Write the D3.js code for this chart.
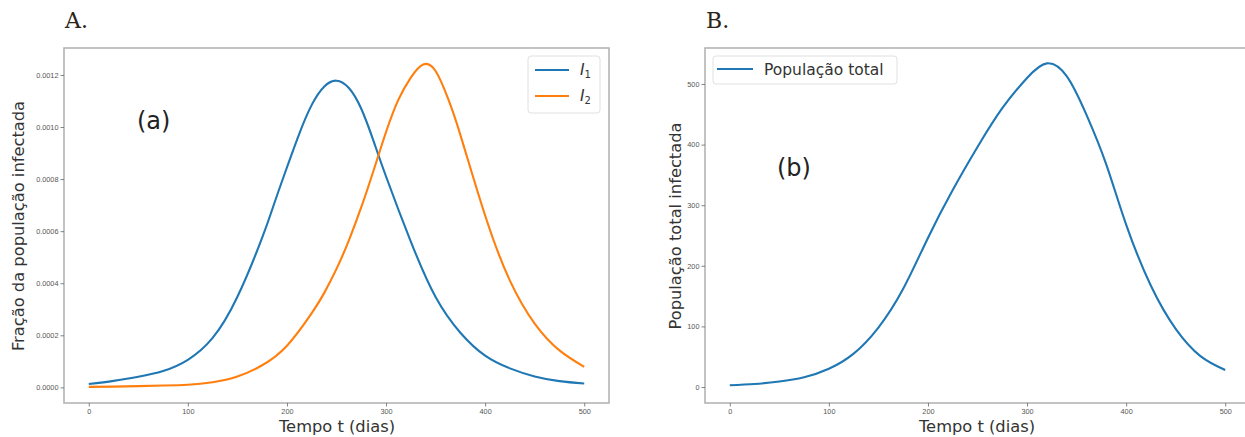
<!DOCTYPE html>
<html>
<head>
<meta charset="utf-8">
<script src="https://cdn.jsdelivr.net/npm/d3@7"></script>
<style>
  html, body { margin: 0; padding: 0; background: #fff; }
  svg { display: block; font-family: "DejaVu Sans", sans-serif; }
  .spine { fill: none; stroke: #b4b4b4; stroke-width: 1.6; }
  .tick-lbl { font-size: 7.3px; fill: #555; }
  .ax-lbl { font-size: 16.3px; fill: #333; }
  .panel-tag { font-family: "DejaVu Serif", "Liberation Serif", serif; font-size: 22px; fill: #2b2418; }
  .note { font-size: 24px; fill: #222; }
  .leg-txt { font-size: 15.5px; fill: #333; }
</style>
</head>
<body>
<div id="chart"></div>
<script>
// Dados
const i1Days     = [0, 25, 50, 75, 100, 125, 150, 175, 187.5, 200, 212.5, 225, 237.5, 250, 262.5, 275, 287.5, 300, 325, 350, 375, 400, 425, 450, 475, 500];
const i1Values   = [0.000013, 0.000025, 0.000041, 0.000063, 0.000106, 0.000190, 0.000348, 0.000575, 0.000710, 0.000845, 0.000975, 0.001085, 0.001155, 0.001178, 0.001150, 0.001070, 0.000945, 0.000810, 0.000560, 0.000347, 0.000210, 0.000122, 0.000073, 0.000042, 0.000024, 0.000015];
const i2Days     = [0, 25, 50, 75, 100, 125, 150, 175, 200, 225, 237.5, 250, 262.5, 275, 287.5, 300, 312.5, 325, 337.5, 350, 362.5, 375, 400, 425, 450, 475, 500];
const i2Values   = [0.000002, 0.000003, 0.000005, 0.000007, 0.000010, 0.000020, 0.000042, 0.000085, 0.000160, 0.000285, 0.000362, 0.000455, 0.000565, 0.000692, 0.000834, 0.000981, 0.001105, 0.001190, 0.001240, 0.001215, 0.001110, 0.000970, 0.000660, 0.000410, 0.000245, 0.000142, 0.000079];
const totalDays  = [0, 25, 50, 75, 100, 125, 150, 175, 200, 225, 250, 275, 300, 320, 340, 360, 380, 400, 425, 450, 475, 500];
const totalVals  = [3, 5, 9, 16, 30, 55, 98, 162, 246, 325, 396, 460, 510, 534, 513, 449, 367, 268, 167, 96, 51, 28];
const xTicks     = [0, 100, 200, 300, 400, 500];
const yTicksA    = [0, 0.0002, 0.0004, 0.0006, 0.0008, 0.0010, 0.0012];
const yTicksB    = [0, 100, 200, 300, 400, 500];

const W = 1245, H = 437;
const BLUE = '#1f77b4', ORANGE = '#ff7f0e';

const svg = d3.select('#chart').append('svg')
  .attr('width', W).attr('height', H);

/**
 * Desenha um painel tipo matplotlib: eixos, ticks, linhas.
 */
function drawPanel(p) {
  const x = d3.scaleLinear().domain([-25, 525]).range([p.left, p.right]);
  const y = d3.scaleLinear().domain(p.yDomain).range([p.bottom, p.top]);
  const g = svg.append('g');

  // moldura
  g.append('rect').attr('class', 'spine')
    .attr('x', p.left).attr('y', p.top)
    .attr('width', p.right - p.left).attr('height', p.bottom - p.top);

  // eixo x
  const xAxis = d3.axisBottom(x).tickValues(xTicks).tickSize(3.5).tickPadding(2).tickFormat(d3.format('d'));
  const gx = g.append('g').attr('transform', `translate(0,${p.bottom})`).call(xAxis);
  // eixo y
  const yAxis = d3.axisLeft(y).tickValues(p.yTicks).tickSize(3.5).tickPadding(2).tickFormat(p.yFmt);
  const gy = g.append('g').attr('transform', `translate(${p.left},0)`).call(yAxis);

  [gx, gy].forEach(a => {
    a.select('.domain').remove();
    a.selectAll('line').attr('stroke', '#666').attr('stroke-width', 0.8);
    a.selectAll('text').attr('class', 'tick-lbl').attr('font-family', null).attr('font-size', null).attr('fill', null);
  });

  // linhas
  const clip = 'clip-' + p.id;
  svg.append('clipPath').attr('id', clip).append('rect')
    .attr('x', p.left).attr('y', p.top).attr('width', p.right - p.left).attr('height', p.bottom - p.top);

  p.series.forEach(s => {
    const pts = s.t.map((t, i) => [t, s.v[i]]);
    g.append('path')
      .attr('clip-path', `url(#${clip})`)
      .attr('d', d3.line().x(d => x(d[0])).y(d => y(d[1])).curve(d3.curveNatural)(pts))
      .attr('fill', 'none').attr('stroke', s.color).attr('stroke-width', 2.1);
  });

  // rótulos dos eixos
  g.append('text').attr('class', 'ax-lbl')
    .attr('x', p.xLblX).attr('y', 432)
    .attr('text-anchor', 'middle').text('Tempo t (dias)');
  g.append('text').attr('class', 'ax-lbl')
    .attr('transform', `translate(${p.yLblX},${p.yLblY}) rotate(-90)`)
    .attr('text-anchor', 'middle').text(p.yLabel);

  // letra do painel e anotação
  g.append('text').attr('class', 'panel-tag').attr('x', p.left + 1).attr('y', 28).text(p.tag);
  g.append('text').attr('class', 'note').attr('x', p.noteX).attr('y', p.noteY).text(p.note);

  return { g, x, y };
}

// Painel A
const A = drawPanel({
  id: 'a', left: 64, right: 609, top: 48, bottom: 403,
  yDomain: [-0.00006, 0.0013035], yTicks: yTicksA, yFmt: d3.format('.4f'),
  series: [
    { t: i1Days, v: i1Values, color: BLUE },
    { t: i2Days, v: i2Values, color: ORANGE }
  ],
  yLabel: 'Fração da população infectada', yLblX: 24, yLblY: 226, xLblX: 337,
  tag: 'A.', note: '(a)', noteX: 137, noteY: 129
});

// Legenda A
const legA = A.g.append('g');
legA.append('rect').attr('x', 528).attr('y', 56).attr('width', 72).attr('height', 57)
  .attr('rx', 3).attr('fill', '#fff').attr('stroke', '#e0e0e0').attr('stroke-width', 1);
[['1', BLUE, 70], ['2', ORANGE, 96]].forEach(([sub, c, ly]) => {
  legA.append('line').attr('x1', 535).attr('x2', 569).attr('y1', ly).attr('y2', ly)
    .attr('stroke', c).attr('stroke-width', 2.1);
  const tx = legA.append('text').attr('class', 'leg-txt').attr('x', 580).attr('y', ly + 5);
  tx.append('tspan').attr('font-style', 'italic').text('I');
  tx.append('tspan').attr('font-size', 10).attr('dy', 3).text(sub);
});

// Painel B
const B = drawPanel({
  id: 'b', left: 705, right: 1250, top: 48, bottom: 403,
  yDomain: [-26.4, 559.4], yTicks: yTicksB, yFmt: d3.format('d'),
  series: [ { t: totalDays, v: totalVals, color: BLUE } ],
  yLabel: 'População total infectada', yLblX: 681, yLblY: 226, xLblX: 977,
  tag: 'B.', note: '(b)', noteX: 777, noteY: 176
});

// Legenda B
const legB = B.g.append('g');
legB.append('rect').attr('x', 713).attr('y', 56).attr('width', 184).attr('height', 28)
  .attr('rx', 3).attr('fill', '#fff').attr('stroke', '#e0e0e0').attr('stroke-width', 1);
legB.append('line').attr('x1', 717).attr('x2', 753).attr('y1', 69).attr('y2', 69)
  .attr('stroke', BLUE).attr('stroke-width', 2.1);
legB.append('text').attr('class', 'leg-txt').attr('x', 764).attr('y', 75)
  .text('População total');
</script>
</body>
</html>
